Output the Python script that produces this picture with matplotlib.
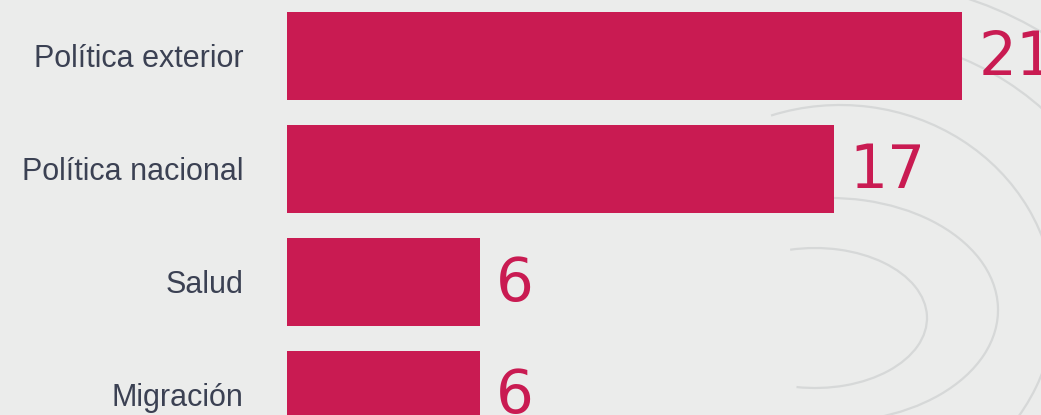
import matplotlib
matplotlib.use("Agg")
import matplotlib.pyplot as plt
from matplotlib.patches import Arc

categories = ["Política exterior", "Política nacional", "Salud", "Migración"]
values = [21, 17, 6, 6]

BG = "#ebeceb"
BAR = "#c91b52"
TXT = "#3b4153"

W, H = 1041, 415
fig = plt.figure(figsize=(W / 100, H / 100), dpi=100, facecolor=BG)

# decorative background curves (figure pixel space)
deco = fig.add_axes([0, 0, 1, 1], zorder=0)
deco.set_xlim(0, W)
deco.set_ylim(H, 0)
deco.axis("off")
for (cx, cy, rx, ry) in [(815, 318, 112, 70), (830, 310, 168, 112), (840, 305, 215, 200),
                         (845, 300, 285, 265), (850, 300, 350, 320)]:
    deco.add_patch(Arc((cx, cy), 2 * rx, 2 * ry, theta1=-110, theta2=105,
                       color="#d6d8d8", lw=1.6))

ax = fig.add_axes([287 / W, 0, 1 - 287 / W, 1], zorder=1)
ax.patch.set_alpha(0)
y = list(range(len(categories)))
ax.barh(y, values, height=0.78, color=BAR)
ax.set_xlim(0, 754 / 32.15)
ax.set_ylim(3.18, -0.496)
for s in ax.spines.values():
    s.set_visible(False)
ax.set_xticks([])
ax.set_yticks(y)
ax.set_yticklabels(categories, fontsize=22, color=TXT, family="Liberation Sans")
ax.tick_params(axis="y", length=0, pad=31.5)
for yi, v in zip(y, values):
    ax.text(v + 0.5, yi + 0.02, str(v), va="center", ha="left", color=BAR,
            fontsize=43, family="DejaVu Sans")

fig.savefig("out.png", dpi=100, facecolor=BG)
